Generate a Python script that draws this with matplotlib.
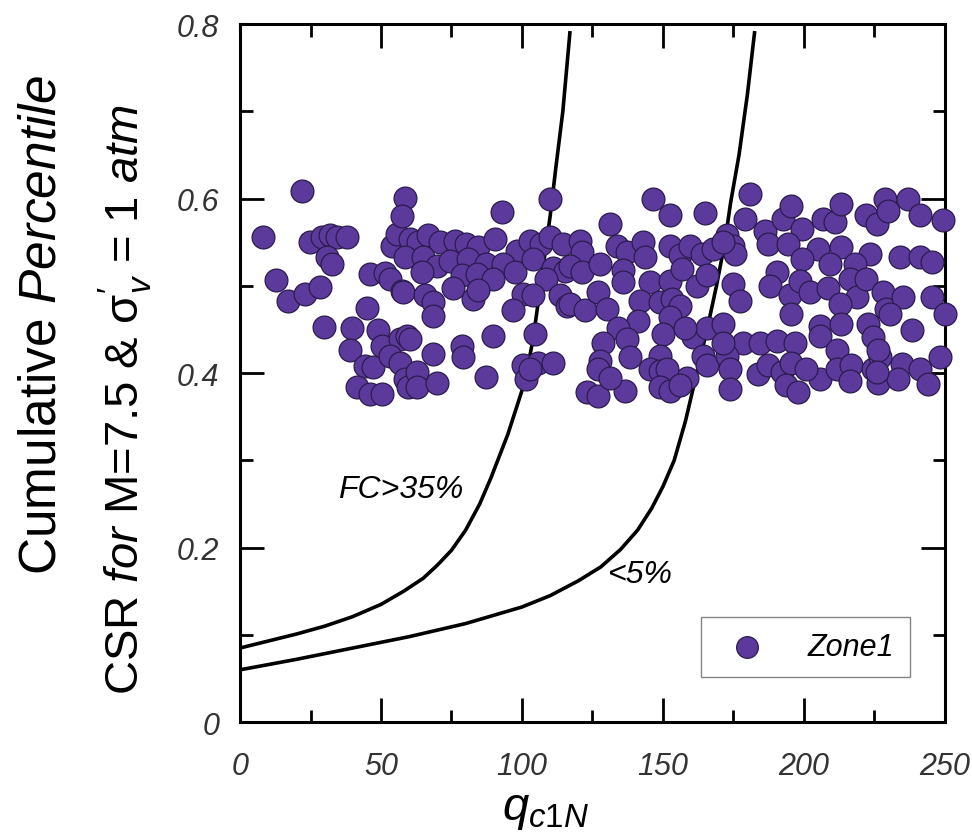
import numpy as np
import matplotlib.pyplot as plt
from matplotlib.ticker import MultipleLocator

plt.rcParams['font.family'] = ['Liberation Sans', 'DejaVu Sans']
plt.rcParams['mathtext.fontset'] = 'custom'
plt.rcParams['mathtext.rm'] = 'Liberation Sans'
plt.rcParams['mathtext.it'] = 'Liberation Sans:italic'

# Zone1 points (qc1N, CSR)
qc1n = [21.9, 8.3, 24.8, 29.0, 31.9, 34.3, 37.8, 30.7, 32.5, 12.8, 17.1, 23.0, 28.4, 29.6,
        44.9, 39.6, 49.1, 39.0, 44.3, 47.3, 50.2, 41.4, 46.1, 50.2, 46.1, 51.4, 53.2, 57.3,
        53.8, 55.6, 58.5, 57.3, 56.7, 59.1, 53.2, 56.7, 58.5, 59.7,
        92.8, 109.9, 60.2, 63.2, 66.7, 70.9, 76.2, 80.3, 84.5, 90.4, 98.1, 102.8, 106.9, 109.9,
        114.6, 58.5, 65.0, 69.7, 74.4, 80.9, 87.4, 93.3, 97.5, 104.0, 111.1, 115.2, 64.4, 78.6,
        83.9, 89.8, 108.7, 57.9, 65.6, 68.5, 75.6, 82.7, 84.5, 100.4, 104.0, 96.9, 113.4, 115.8,
        68.5, 60.2, 68.5, 78.6, 79.2, 89.8, 104.6, 62.6, 62.6, 69.7, 87.4, 100.4, 105.8, 111.1,
        101.6, 102.8,
        146.6, 152.5, 164.9, 131.2, 120.6, 121.2, 133.6, 137.1, 143.1, 143.6, 152.5, 156.1, 159.6,
        163.7, 167.9, 172.6, 117.0, 121.2, 127.7, 136.0, 136.0, 145.4, 152.5, 156.6, 162.0, 165.5,
        117.0, 122.4, 127.1, 130.1, 141.9, 149.0, 153.1, 156.1, 152.5, 141.3, 134.2, 137.1, 150.1,
        160.8, 165.5, 128.9, 157.8, 138.3, 127.7, 127.1, 149.0, 145.4, 149.0, 164.3, 165.5, 158.4,
        151.3, 123.0, 127.1, 136.6, 149.0, 152.5, 156.1, 131.2,
        180.8, 179.1, 174.9, 175.5, 171.4, 186.2, 192.7, 195.6, 199.2, 187.3, 194.4, 206.8, 211.0,
        213.3, 222.2, 225.8, 228.7, 229.9, 205.1, 213.3, 223.4, 218.1, 209.2, 199.2, 190.3, 187.9,
        195.0, 198.6, 202.1, 208.6, 216.3, 218.7, 212.8, 222.2, 228.1, 229.3, 174.9, 177.3, 195.6,
        205.7, 213.3, 222.8, 224.6, 205.7, 171.4, 178.5, 184.4, 190.3, 196.8, 211.6, 172.6, 171.4,
        173.7, 173.7, 183.8, 187.3, 192.1, 195.6, 193.8, 198.0, 205.7, 211.6, 216.9, 216.3, 224.6,
        226.9, 226.3, 200.9,
        237.0, 241.2, 249.5, 234.1, 241.2, 245.3, 235.3, 245.3, 250.0, 230.5, 238.2, 226.4, 248.3,
        234.7, 241.2, 233.5, 244.1, 225.8]
csr = [0.609, 0.556, 0.550, 0.556, 0.558, 0.556, 0.556, 0.533, 0.525, 0.507, 0.483, 0.491, 0.499, 0.453,
       0.475, 0.452, 0.450, 0.426, 0.408, 0.407, 0.431, 0.384, 0.376, 0.376, 0.514, 0.515, 0.508, 0.494,
       0.546, 0.559, 0.601, 0.580, 0.439, 0.443, 0.420, 0.412, 0.393, 0.384,
       0.585, 0.600, 0.554, 0.550, 0.558, 0.550, 0.552, 0.548, 0.544, 0.554, 0.540, 0.552, 0.548, 0.556,
       0.548, 0.533, 0.533, 0.523, 0.529, 0.531, 0.525, 0.525, 0.516, 0.531, 0.521, 0.517, 0.516, 0.512,
       0.514, 0.508, 0.508, 0.493, 0.489, 0.481, 0.498, 0.485, 0.495, 0.491, 0.489, 0.472, 0.489, 0.477,
       0.466, 0.439, 0.422, 0.431, 0.418, 0.443, 0.445, 0.401, 0.384, 0.389, 0.396, 0.409, 0.412, 0.412,
       0.393, 0.405,
       0.600, 0.581, 0.584, 0.571, 0.552, 0.539, 0.546, 0.539, 0.550, 0.533, 0.546, 0.535, 0.546,
       0.537, 0.542, 0.558, 0.523, 0.516, 0.525, 0.518, 0.504, 0.504, 0.506, 0.519, 0.500, 0.512,
       0.479, 0.472, 0.493, 0.474, 0.483, 0.481, 0.485, 0.477, 0.464, 0.460, 0.452, 0.439, 0.445,
       0.441, 0.452, 0.435, 0.452, 0.418, 0.414, 0.405, 0.420, 0.405, 0.403, 0.420, 0.409, 0.395,
       0.405, 0.378, 0.374, 0.380, 0.384, 0.380, 0.386, 0.395,
       0.605, 0.577, 0.546, 0.537, 0.550, 0.563, 0.577, 0.592, 0.565, 0.548, 0.548, 0.577, 0.573,
       0.594, 0.581, 0.571, 0.600, 0.586, 0.542, 0.544, 0.537, 0.525, 0.525, 0.531, 0.516, 0.500,
       0.489, 0.506, 0.493, 0.498, 0.508, 0.487, 0.479, 0.508, 0.493, 0.474, 0.502, 0.483, 0.468,
       0.454, 0.456, 0.456, 0.441, 0.443, 0.456, 0.435, 0.435, 0.437, 0.435, 0.426, 0.420, 0.435,
       0.405, 0.382, 0.399, 0.409, 0.401, 0.412, 0.386, 0.378, 0.393, 0.405, 0.409, 0.391, 0.405,
       0.418, 0.389, 0.405,
       0.600, 0.581, 0.575, 0.533, 0.533, 0.527, 0.487, 0.487, 0.468, 0.468, 0.449, 0.426, 0.418,
       0.411, 0.405, 0.393, 0.388, 0.401]

# boundary curves
q_fc35 = [0, 10, 20, 30, 40, 50, 58, 65, 70, 75, 80, 85, 89, 92, 95, 98, 101, 104, 107,
          110, 112, 114.5, 117]
csr_fc35 = [0.085, 0.093, 0.101, 0.110, 0.121, 0.135, 0.150, 0.165, 0.180, 0.197, 0.220,
            0.250, 0.280, 0.305, 0.330, 0.360, 0.390, 0.440, 0.510, 0.580, 0.635, 0.700, 0.790]
q_clean = [0, 20, 40, 60, 80, 100, 110, 120, 128, 135, 141, 146, 150, 154, 158, 162, 166,
           169, 172, 174, 177, 180, 182.5]
csr_clean = [0.060, 0.072, 0.085, 0.098, 0.113, 0.132, 0.145, 0.162, 0.178, 0.198, 0.220,
             0.245, 0.270, 0.300, 0.345, 0.400, 0.455, 0.500, 0.550, 0.595, 0.650, 0.720, 0.790]

x_ticks = [0, 50, 100, 150, 200, 250]
y_ticks = [0, 0.2, 0.4, 0.6, 0.8]
y_ticklabels = ['0', '0.2', '0.4', '0.6', '0.8']

fig = plt.figure(figsize=(9.72, 8.37), dpi=100)
ax = fig.add_axes([0.247, 0.136, 0.725, 0.834])

ax.plot(q_fc35, csr_fc35, color='k', lw=2.6, zorder=2)
ax.plot(q_clean, csr_clean, color='k', lw=2.6, zorder=2)
ax.scatter(qc1n, csr, s=270, color='#5c3a9c', edgecolor='#2b1b4e', linewidth=0.9,
           zorder=3, clip_on=False, label='Zone1')

ax.text(57, 0.267, 'FC>35%', fontsize=23, style='italic', ha='center', va='center')
ax.text(142, 0.170, '<5%', fontsize=23, style='italic', ha='center', va='center')

ax.set_xlim(0, 250)
ax.set_ylim(0, 0.8)
ax.set_xticks(x_ticks)
ax.set_yticks(y_ticks)
ax.set_yticklabels(y_ticklabels)
ax.xaxis.set_minor_locator(MultipleLocator(25))
ax.yaxis.set_minor_locator(MultipleLocator(0.1))
ax.tick_params(which='both', direction='in', top=True, right=True, width=2)
ax.tick_params(which='major', length=17)
ax.tick_params(which='minor', length=9)
ax.tick_params(axis='x', pad=21, labelsize=22, labelcolor='#333333')
ax.tick_params(axis='y', pad=15, labelsize=22, labelcolor='#333333')
for lab in ax.get_xticklabels() + ax.get_yticklabels():
    lab.set_fontstyle('italic')
for sp in ax.spines.values():
    sp.set_linewidth(2.2)

leg = ax.legend(loc='lower right', bbox_to_anchor=(0.95, 0.064), fontsize=22, frameon=True,
                fancybox=False, edgecolor='#666666', markerscale=0.95, handletextpad=1.0,
                borderpad=0.5, borderaxespad=0)
leg.get_frame().set_linewidth(1.0)
for t in leg.get_texts():
    t.set_fontstyle('italic')

fig.text(0.561, 0.032, r'$\mathit{q}_{\mathit{c1N}}$', fontsize=34, ha='center', va='center')
fig.text(0.043, 0.612, r'Cumulative $\mathit{Percentile}$', fontsize=37, rotation=90,
         ha='center', va='center')
fig.text(0.129, 0.522, r"CSR $\mathit{for}$ M=7.5 & $\mathrm{\sigma}^{\prime}_{v}$ = $\mathit{1\ atm}$",
         fontsize=34, rotation=90, ha='center', va='center')

plt.savefig('out.png', dpi=100)
